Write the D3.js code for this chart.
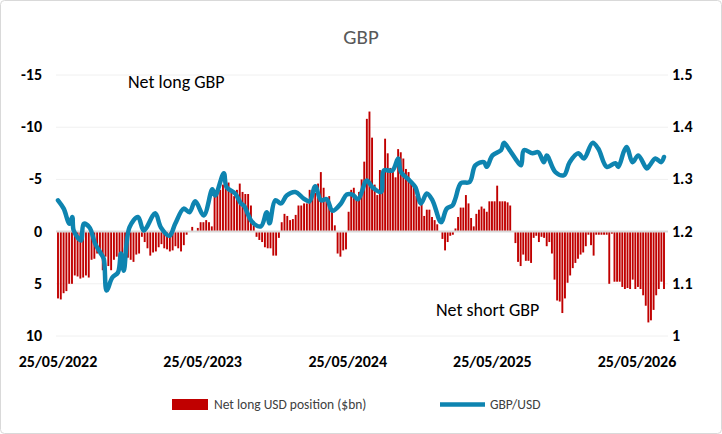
<!DOCTYPE html>
<html>
<head>
<meta charset="utf-8">
<script src="https://cdn.jsdelivr.net/npm/d3@7"></script>
<style>
  body { margin: 0; background: #fff; }
  text { font-family: Calibri, Carlito, "Liberation Sans", sans-serif; }
</style>
</head>
<body>
<svg id="canvas" width="722" height="434"></svg>
<script>
// net long USD position ($bn), weekly, positive = net short GBP
const posizioni = [
  6.4, 6.5, 5.9, 5.7, 5.0, 5.0, 4.2, 4.3, 4.5, 4.4, 4.2, 4.4, 2.7, 2.6, 2.1, 1.9, 3.7, 2.4, 3.3, 3.7,
  2.7, 2.4, 3.7, 3.2, 3.0, 2.5, 2.7, 2.9, 2.2, 2.1, 0.5, 1.0, 1.6, 2.3, 2.0, 1.9, 1.5, 1.2, 1.6, 1.7,
  1.9, 1.8, 1.4, 1.6, 1.9, 1.3, 0.3, 0, -0.45, 0, -0.35, -0.9, -0.9, -1.1, -0.9, -0.5, -3.4, -3.7, -4.0, -4.5,
  -5.1, -4.7, -3.7, -3.4, -4.0, -4.6, -3.8, -3.6, -3.6, -2.5, -0.6, 0.5, 0.8, 1.0, 1.5, 1.6, 1.6, 2.3, 2.3, 0.6,
  -0.9, -1.7, -1.5, -1.1, -1.2, -1.6, -2.5, -2.5, -2.7, -2.7, -4.0, -3.4, -3.7, -4.6, -5.7, -4.2, -3.0, -3.4, -2.1, -0.6,
  2.1, 2.4, 1.8, 1.7, -1.9, -4.0, -4.2, -3.0, -3.8, -5.0, -6.7, -10.8, -11.5, -9.0, -4.5, -3.5, -5.9, -5.4, -8.9, -7.5,
  -6.1, -6.1, -5.2, -7.9, -7.6, -7.0, -6.0, -5.7, -4.8, -4.5, -3.4, -2.4, -2.9, -1.5, -2.1, -2.1, -1.4, -1.1, -0.7, 0,
  0.7, 1.8, 1.0, 0.4, 0.3, -0.3, -1.4, -2.3, -2.3, -3.5, -2.7, -1.3, -0.5, -1.7, -2.1, -2.4, -2.2, -1.9, -2.9, -2.9,
  -2.9, -4.4, -2.9, -2.9, -2.9, -2.8, -2.5, 0, 1.1, 2.9, 3.3, 2.2, 2.8, 2.8, 3.0, 0.6, 0.4, 1.0, 0.5, 0.6,
  1.4, 1.0, 2.1, 4.6, 6.6, 6.7, 7.8, 6.4, 4.9, 4.2, 3.5, 3.0, 2.6, 2.2, 2.0, 1.4, 0.3, 1.3, 2.3, 0.3,
  0.3, 0.3, 0.3, 0.3, 5.0, 0.2, 4.8, 4.8, 4.8, 5.3, 5.5, 5.4, 5.5, 4.6, 5.5, 5.3, 5.5, 6.1, 7.1, 8.7,
  8.5, 7.5, 6.1, 5.5, 4.8, 5.5
];

// GBP/USD, position given as week number (0..212 over the chart width)
const settimaneFx = [0, 2, 4, 5, 5.5, 8, 9, 11, 13, 15, 16, 17, 19, 21, 22, 23, 25, 28, 30, 34,
  36, 39, 41, 44, 46, 48, 51, 54, 55, 58, 59, 62, 64, 65, 68, 71, 73, 74, 76, 78,
  80, 83, 86, 88, 90, 92, 94, 96, 99, 101, 103, 105, 108, 110, 113, 114, 117, 119, 120, 123,
  125, 127, 129, 131, 134, 136, 138, 139, 141, 144, 146, 149, 150, 152, 155, 156, 158, 160, 162, 163,
  166, 168, 170, 171, 174, 177, 179, 182, 184, 187, 189, 192, 195, 196, 198, 199, 201, 203, 206, 207,
  209, 211, 212];
const cambio = [1.260, 1.244, 1.215, 1.228, 1.202, 1.183, 1.215, 1.208, 1.177, 1.158, 1.148, 1.087, 1.112, 1.122, 1.158, 1.125, 1.208, 1.228, 1.202, 1.235,
  1.208, 1.192, 1.215, 1.244, 1.237, 1.258, 1.231, 1.281, 1.269, 1.312, 1.285, 1.273, 1.254, 1.250, 1.218, 1.210, 1.237, 1.216, 1.260, 1.254,
  1.269, 1.276, 1.263, 1.258, 1.287, 1.260, 1.262, 1.240, 1.254, 1.271, 1.271, 1.262, 1.298, 1.285, 1.276, 1.317, 1.317, 1.340, 1.314, 1.298,
  1.285, 1.254, 1.273, 1.260, 1.218, 1.244, 1.250, 1.263, 1.293, 1.295, 1.327, 1.333, 1.324, 1.346, 1.356, 1.370, 1.356, 1.340, 1.327, 1.356,
  1.350, 1.352, 1.333, 1.346, 1.314, 1.308, 1.333, 1.350, 1.340, 1.370, 1.359, 1.324, 1.331, 1.324, 1.354, 1.362, 1.333, 1.346, 1.321, 1.327,
  1.340, 1.333, 1.343];

const etichetteX = ["25/05/2022", "25/05/2023", "25/05/2024", "25/05/2025", "25/05/2026"];
const tickSinistra = [-15, -10, -5, 0, 5, 10];
const tickDestra = [1.5, 1.4, 1.3, 1.2, 1.1, 1];

const svg = d3.select("#canvas");
const rosso = "#C00000", blu = "#0E84B0";

svg.append("rect").attr("x", 0.5).attr("y", 0.5).attr("width", 721).attr("height", 433)
  .attr("rx", 4).attr("fill", "#fff").attr("stroke", "#d9d9d9");

const n = posizioni.length;
const scalaI = d3.scaleLinear().domain([0, 103, n - 1]).range([58, 346, 664]);
const scalaFx = d3.scaleLinear().domain([0, 212]).range([58, 664]);
const scalaData = d3.scaleTime()
  .domain([new Date(2022, 4, 25), new Date(2026, 4, 25)]).range([58, 637]);
const scalaY = d3.scaleLinear().domain([-15, 10]).range([75, 336]);
const scalaY2 = d3.scaleLinear().domain([1.5, 1]).range([75, 336]);

// griglia
svg.append("g").selectAll("line").data(tickSinistra.filter(d => d !== 0)).join("line")
  .attr("x1", 56).attr("x2", 668)
  .attr("y1", d => scalaY(d)).attr("y2", d => scalaY(d))
  .attr("stroke", "#f0f0f0").attr("stroke-width", 1);

// barre
const larghezzaBarra = 1.9;
svg.append("g").selectAll("rect").data(posizioni).join("rect")
  .attr("x", (d, i) => scalaI(i) - larghezzaBarra / 2)
  .attr("width", larghezzaBarra)
  .attr("y", d => Math.min(scalaY(0), scalaY(d)))
  .attr("height", d => Math.abs(scalaY(d) - scalaY(0)))
  .attr("fill", rosso);

svg.append("line").attr("x1", 56).attr("x2", 668)
  .attr("y1", scalaY(0)).attr("y2", scalaY(0))
  .attr("stroke", "#d9d9d9").attr("stroke-width", 2);

// linea del cambio
const linea = d3.line()
  .x((d, i) => scalaFx(settimaneFx[i]))
  .y(d => scalaY2(d))
  .curve(d3.curveCatmullRom);
svg.append("path").datum(cambio).attr("d", linea)
  .attr("fill", "none").attr("stroke", blu).attr("stroke-width", 4.5)
  .attr("stroke-linejoin", "round").attr("stroke-linecap", "round");

// assi
const assi = svg.append("g").attr("font-weight", "bold").attr("font-size", 16).attr("fill", "#000");
assi.selectAll("text.s").data(tickSinistra).join("text").attr("class", "s")
  .attr("x", 42).attr("y", d => scalaY(d) + 5).attr("text-anchor", "end")
  .text(d => d < 0 ? "-" + Math.abs(d) : d);
assi.selectAll("text.d").data(tickDestra).join("text").attr("class", "d")
  .attr("x", 672).attr("y", d => scalaY2(d) + 5)
  .text(d => d);
const parseData = d3.timeParse("%d/%m/%Y");
assi.selectAll("text.x").data(etichetteX).join("text").attr("class", "x")
  .attr("x", d => scalaData(parseData(d))).attr("y", 367).attr("text-anchor", "middle")
  .text(d => d);

// titolo e note
svg.append("text").attr("x", 361).attr("y", 44).attr("text-anchor", "middle")
  .attr("font-size", 21).attr("fill", "#595959").text("GBP");
svg.append("text").attr("x", 128).attr("y", 88).attr("font-size", 18).attr("fill", "#000").text("Net long GBP");
svg.append("text").attr("x", 436).attr("y", 316).attr("font-size", 18).attr("fill", "#000").text("Net short GBP");

// legenda
const leg = svg.append("g").attr("font-size", 13.5).attr("fill", "#404040");
leg.append("rect").attr("x", 172).attr("y", 399).attr("width", 36).attr("height", 11).attr("fill", rosso);
leg.append("text").attr("x", 214).attr("y", 409).text("Net long USD position ($bn)");
leg.append("line").attr("x1", 440).attr("x2", 485).attr("y1", 404.5).attr("y2", 404.5)
  .attr("stroke", blu).attr("stroke-width", 4.5);
leg.append("text").attr("x", 490).attr("y", 409).text("GBP/USD");
</script>
</body>
</html>
